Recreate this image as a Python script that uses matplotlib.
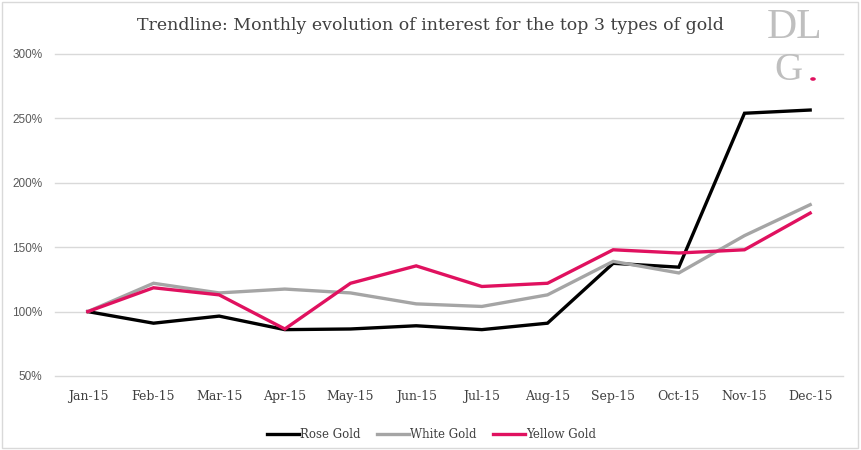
import matplotlib
matplotlib.use("Agg")
import matplotlib.pyplot as plt
from matplotlib.patches import Rectangle, Circle

months = ["Jan-15", "Feb-15", "Mar-15", "Apr-15", "May-15", "Jun-15",
          "Jul-15", "Aug-15", "Sep-15", "Oct-15", "Nov-15", "Dec-15"]
rose_gold = [100, 91, 96.5, 86, 86.5, 89, 86, 91, 137.5, 134.5, 254, 256.5]
white_gold = [100, 122, 114.5, 117.5, 114.5, 106, 104, 113, 139, 130, 159, 183]
yellow_gold = [100, 118.5, 113, 86.5, 122, 135.5, 119.5, 122, 148, 145.5, 148, 176.5]
y_ticks = [50, 100, 150, 200, 250, 300]

title = "Trendline: Monthly evolution of interest for the top 3 types of gold"

fig = plt.figure(figsize=(8.61, 4.5), dpi=100)
ax = fig.add_axes([55/861, 1-376/450, (843-55)/861, (376-54)/450])

x = list(range(len(months)))
lw = 2.4
ax.plot(x, rose_gold, color="#000000", lw=lw, label="Rose Gold", solid_joinstyle="miter")
ax.plot(x, white_gold, color="#A5A5A5", lw=lw, label="White Gold", solid_joinstyle="miter")
ax.plot(x, yellow_gold, color="#E0115F", lw=lw, label="Yellow Gold", solid_joinstyle="miter")

ax.set_xlim(-0.5, len(months) - 0.5)
ax.set_ylim(50, 300)
ax.set_yticks(y_ticks)
ax.set_yticklabels([f"{v}%" for v in y_ticks], fontsize=8.5, color="#595959",
                   family="Liberation Sans")
ax.set_xticks(x)
ax.set_xticklabels(months, fontsize=9, color="#404040", family="DejaVu Serif")
ax.tick_params(length=0, pad=10)
ax.tick_params(axis="y", pad=9)
ax.grid(axis="y", color="#D9D9D9", lw=1)
for gl in ax.get_ygridlines():
    gl.set_clip_on(False)
ax.set_axisbelow(True)
for s in ax.spines.values():
    s.set_visible(False)

leg = ax.legend(loc="upper center", bbox_to_anchor=(0.478, -0.13), ncol=3, frameon=False,
                prop={"family": "DejaVu Serif", "size": 8.5}, handlelength=2.7,
                handletextpad=0.1, columnspacing=1.4)
for t in leg.get_texts():
    t.set_color("#404040")

fig.text(0.5, 1-25/450, title, ha="center", va="center", fontsize=12.5,
         color="#404040", family="DejaVu Serif")

# logo
fig.text(795/861, 1-28/450, "DL", ha="center", va="center", fontsize=30,
         color="#BFBFBF", family="Liberation Serif")
fig.text(788/861, 1-70/450, "G", ha="center", va="center", fontsize=28,
         color="#BFBFBF", family="Liberation Serif")
fig.patches.append(Circle((813/861, 1-79/450), 0.0024,
                   transform=fig.transFigure, color="#E0115F"))

# chart border
fig.patches.append(Rectangle((2/861, 2/450), 856/861, 446/450, transform=fig.transFigure,
                             fill=False, edgecolor="#D9D9D9", lw=1))

fig.savefig("out.png", dpi=100)
